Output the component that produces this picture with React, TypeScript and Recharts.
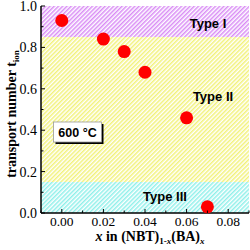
import React from 'react';
import {
  ScatterChart,
  Scatter,
  XAxis,
  YAxis,
  ReferenceArea,
} from 'recharts';

// composition x and transport number t_ion at 600 °C
const xValues = [0.0, 0.02, 0.03, 0.04, 0.06, 0.07];
const tIon = [0.93, 0.84, 0.78, 0.68, 0.46, 0.03];

const xTicks = [-0.01, 0, 0.01, 0.02, 0.03, 0.04, 0.05, 0.06, 0.07, 0.08, 0.09];
const xLabels = ['0.00', '0.02', '0.04', '0.06', '0.08'];
const yTicks = [0, 0.1, 0.2, 0.3, 0.4, 0.5, 0.6, 0.7, 0.8, 0.9, 1.0];
const yLabels = ['0.0', '0.2', '0.4', '0.6', '0.8', '1.0'];

const regions = [
  { name: 'Type I', from: 0.85, to: 1.0, color: '#d98cf5', id: 'hatchI' },
  { name: 'Type II', from: 0.15, to: 0.85, color: '#f2f27a', id: 'hatchII' },
  { name: 'Type III', from: 0.0, to: 0.15, color: '#8ff0ea', id: 'hatchIII' },
];

const data = xValues.map((x, i) => ({ x, t: tIon[i] }));

const SERIF = '"Liberation Serif", "Times New Roman", serif';
const SANS = '"Liberation Sans", Arial, sans-serif';

function XTick(props: any) {
  const { x, y, payload } = props;
  const label = xLabels.find((l) => Math.abs(parseFloat(l) - payload.value) < 1e-6);
  const len = label ? 4 : 2.5;
  return (
    <g>
      <line x1={x} x2={x} y1={y} y2={y - len} stroke="#000" strokeWidth={1} />
      {label && (
        <text x={x} y={y + 13} textAnchor="middle" fontFamily={SERIF} fontSize={13.5} fill="#000">
          {label}
        </text>
      )}
    </g>
  );
}

function YTick(props: any) {
  const { x, y, payload } = props;
  const label = yLabels.find((l) => Math.abs(parseFloat(l) - payload.value) < 1e-6);
  const len = label ? 4 : 2.5;
  return (
    <g>
      <line x1={x} x2={x + len} y1={y} y2={y} stroke="#000" strokeWidth={1} />
      {label && (
        <text x={x - 4} y={y + 5} textAnchor="end" fontFamily={SERIF} fontSize={14} fill="#000">
          {label}
        </text>
      )}
    </g>
  );
}

function Dot(props: any) {
  const { cx, cy } = props;
  return <circle cx={cx} cy={cy} r={6.5} fill="#ff0000" />;
}

// texts and the temperature box, laid over the chart
function Annotations() {
  return (
    <svg
      width={250}
      height={250}
      style={{ position: 'absolute', left: 0, top: 0, pointerEvents: 'none' }}
    >
      <text x={208} y={28} textAnchor="middle" fontFamily={SANS} fontWeight="bold" fontSize={13}>
        Type I
      </text>
      <text x={213} y={101} textAnchor="middle" fontFamily={SANS} fontWeight="bold" fontSize={13}>
        Type II
      </text>
      <text x={165} y={201} textAnchor="middle" fontFamily={SANS} fontWeight="bold" fontSize={13}>
        Type III
      </text>
      <rect x={55.5} y={124} width={48} height={20} fill="#000" />
      <rect x={53.5} y={122} width={48} height={20} fill="#fff" stroke="#999" strokeWidth={0.8} />
      <text x={77.5} y={137} textAnchor="middle" fontFamily={SANS} fontWeight="bold" fontSize={12.5}>
        600 °C
      </text>
      <g transform="translate(16,114) rotate(-90)">
        <text x={0} y={0} textAnchor="middle" fontFamily={SERIF} fontWeight="bold" fontSize={14}>
          transport number t
          <tspan fontSize={9} dy={3}>ion</tspan>
        </text>
      </g>
      <text x={150} y={241} textAnchor="middle" fontFamily={SERIF} fontWeight="bold" fontSize={14}>
        <tspan fontStyle="italic">x</tspan> in (NBT)
        <tspan fontSize={9} dy={3}>1-</tspan>
        <tspan fontSize={9} fontStyle="italic">x</tspan>
        <tspan dy={-3}>(BA)</tspan>
        <tspan fontSize={9} dy={3} fontStyle="italic">x</tspan>
      </text>
    </svg>
  );
}

export default function App() {
  return (
    <div style={{ position: 'absolute', left: 0, top: 0, width: 250, height: 250, background: '#fff' }}>
      <ScatterChart width={250} height={250} margin={{ top: 6, right: 1, left: 0, bottom: 0 }}>
        <defs>
          {regions.map((r) => (
            <pattern
              key={r.id}
              id={r.id}
              patternUnits="userSpaceOnUse"
              width={3}
              height={3}
              patternTransform="rotate(45)"
            >
              <rect width={3} height={3} fill="#fff" />
              <line x1={0.75} y1={0} x2={0.75} y2={3} stroke={r.color} strokeWidth={1.5} />
            </pattern>
          ))}
        </defs>
        <XAxis
          type="number"
          dataKey="x"
          domain={[-0.01, 0.09]}
          ticks={xTicks}
          tick={<XTick />}
          tickLine={false}
          tickSize={0}
          tickMargin={0}
          axisLine={{ stroke: '#000', strokeWidth: 1.5 }}
          height={37}
          interval={0}
        />
        <XAxis
          xAxisId="top"
          orientation="top"
          type="number"
          domain={[-0.01, 0.09]}
          tick={false}
          tickLine={false}
          axisLine={{ stroke: '#000', strokeWidth: 1.5 }}
          height={0}
        />
        <YAxis
          type="number"
          dataKey="t"
          domain={[0, 1]}
          ticks={yTicks}
          tick={<YTick />}
          tickLine={false}
          tickSize={0}
          tickMargin={0}
          axisLine={{ stroke: '#000', strokeWidth: 1.5 }}
          width={41}
          interval={0}
        />
        <YAxis
          yAxisId="right"
          orientation="right"
          type="number"
          domain={[0, 1]}
          tick={false}
          tickLine={false}
          axisLine={{ stroke: '#000', strokeWidth: 1.5 }}
          width={0}
        />
        {regions.map((r) => (
          <ReferenceArea
            key={r.id}
            x1={-0.01}
            x2={0.09}
            y1={r.from}
            y2={r.to}
            fill={`url(#${r.id})`}
            fillOpacity={1}
            stroke="none"
            ifOverflow="visible"
          />
        ))}
        <Scatter data={data} shape={<Dot />} isAnimationActive={false} />
      </ScatterChart>
      <Annotations />
    </div>
  );
}
